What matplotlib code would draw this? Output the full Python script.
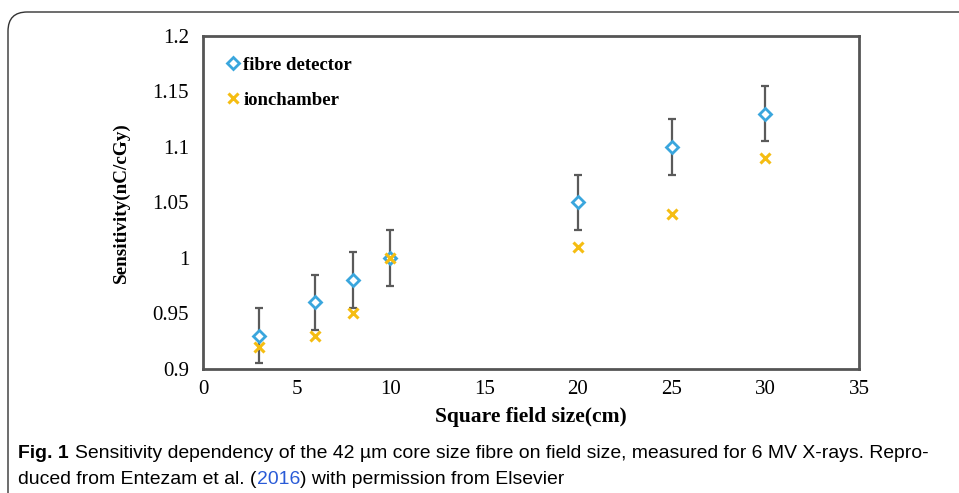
import matplotlib
matplotlib.use('Agg')
import matplotlib.pyplot as plt
from matplotlib.patches import FancyBboxPatch

field_size = [3, 6, 8, 10, 20, 25, 30]
fibre_sens = [0.93, 0.96, 0.98, 1.00, 1.05, 1.10, 1.13]
fibre_err = [0.025, 0.025, 0.025, 0.025, 0.025, 0.025, 0.025]
ion_sens = [0.92, 0.93, 0.95, 1.00, 1.01, 1.04, 1.09]

x_ticks = [0, 5, 10, 15, 20, 25, 30, 35]
y_ticks = [0.9, 0.95, 1.0, 1.05, 1.1, 1.15, 1.2]
y_tick_labels = ['0.9', '0.95', '1', '1.05', '1.1', '1.15', '1.2']

serif = 'Liberation Serif'
cap_font = ['Liberation Sans Narrow', 'Liberation Sans', 'DejaVu Sans']
cap_size = 13.95

W, H = 959, 493
fig = plt.figure(figsize=(W / 100, H / 100), dpi=100)

# rounded border of the figure panel
border = FancyBboxPatch((8 / W, -0.1), 1.1, 1.1 - 12 / H,
                        boxstyle='round,pad=0,rounding_size=0.02',
                        transform=fig.transFigure, fill=False,
                        edgecolor='#333333', linewidth=1.0, mutation_aspect=W / H)
fig.patches.append(border)

ax = fig.add_axes([203 / W, 1 - 369 / H, 656 / W, 333 / H])

ax.errorbar(field_size, fibre_sens, yerr=fibre_err, fmt='none', ecolor='#5a5a5a',
            elinewidth=1.6, capsize=2.8, capthick=1.6, zorder=2)
ax.plot(field_size, fibre_sens, linestyle='none', marker='D', markersize=6.5,
        markerfacecolor='white', markeredgecolor='#3aa6dd', markeredgewidth=2,
        label='fibre detector', zorder=3)
ax.plot(field_size, ion_sens, linestyle='none', marker='x', markersize=7,
        color='#f5bd12', markeredgewidth=2.2, label='ionchamber', zorder=4)

ax.set_xlim(0, 35)
ax.set_ylim(0.9, 1.2)
ax.set_xticks(x_ticks)
ax.set_yticks(y_ticks)
ax.set_yticklabels(y_tick_labels)
ax.tick_params(axis='y', length=0, pad=10, labelsize=15)
ax.tick_params(axis='x', length=0, pad=8, labelsize=15)
for lbl in ax.get_xticklabels() + ax.get_yticklabels():
    lbl.set_fontfamily(serif)
for sp in ax.spines.values():
    sp.set_color('#555555')
    sp.set_linewidth(2)

ax.set_xlabel('Square field size(cm)', fontfamily=serif, fontweight='bold',
              fontsize=15.5, labelpad=6)
ax.set_ylabel('Sensitivity(nC/cGy)', fontfamily=serif, fontweight='bold',
              fontsize=13.8, labelpad=16)

ax.legend(loc='upper left', bbox_to_anchor=(0.0, 1.0), frameon=False,
          handletextpad=0.05, handlelength=1.0, labelspacing=0.95,
          borderaxespad=0.7,
          prop={'family': serif, 'weight': 'bold', 'size': 13.5})

cy1 = 1 - 453 / H
cy2 = 1 - 479 / H
fig.text(18 / W, cy1, 'Fig. 1', fontfamily=cap_font, fontweight='bold',
         fontsize=cap_size, va='center', ha='left')
fig.text(75 / W, cy1,
         'Sensitivity dependency of the 42 \u00b5m core size fibre on field size, '
         'measured for 6 MV X-rays. Repro-',
         fontfamily=cap_font, fontsize=cap_size, va='center', ha='left')
t1 = fig.text(18 / W, cy2, 'duced from Entezam et al. (',
              fontfamily=cap_font, fontsize=cap_size, va='center', ha='left')
fig.canvas.draw()
r = fig.canvas.get_renderer()
bb = t1.get_window_extent(r)
t2 = fig.text(bb.x1 / W, cy2, '2016', color='#2a5bd7',
              fontfamily=cap_font, fontsize=cap_size, va='center', ha='left')
bb2 = t2.get_window_extent(r)
fig.text(bb2.x1 / W, cy2, ') with permission from Elsevier',
         fontfamily=cap_font, fontsize=cap_size, va='center', ha='left')

fig.savefig('out.png', dpi=100)
